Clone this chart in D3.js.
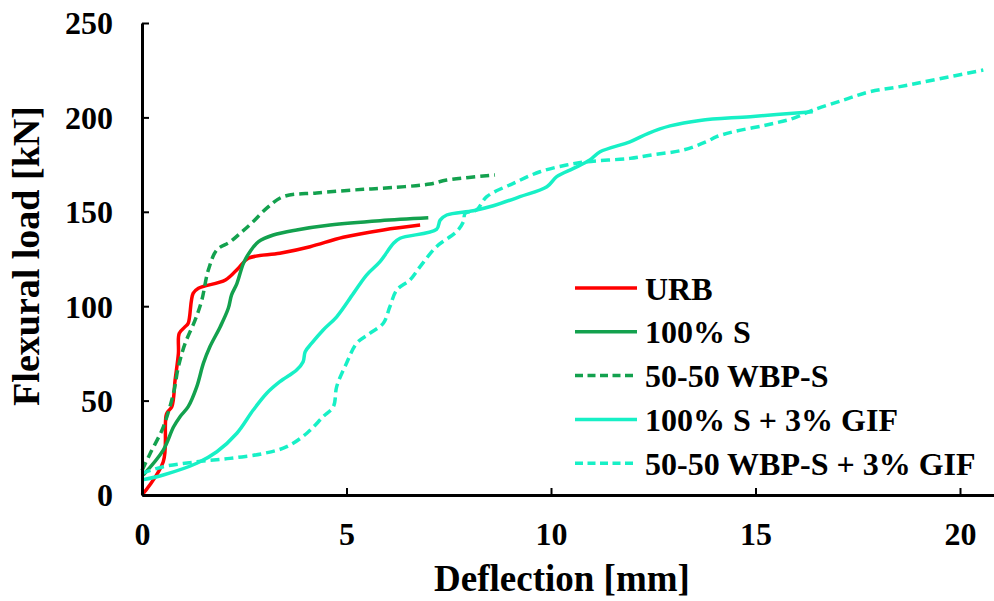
<!DOCTYPE html>
<html>
<head>
<meta charset="utf-8">
<script src="https://cdn.jsdelivr.net/npm/d3@7"></script>
<style>
  body { margin: 0; background: #fff; }
  text { font-family: 'Liberation Serif', 'Times New Roman', serif; font-weight: bold; fill: #000; }
</style>
</head>
<body>
<script>
const seriesNames = ['URB', '100% S', '50-50 WBP-S', '100% S + 3% GIF', '50-50 WBP-S + 3% GIF']

// [deflection mm, load kN]
const urb = [
  [0, 0], [0.52, 17.6], [0.6, 43], [0.73, 46.8], [0.81, 61], [0.89, 75], [0.91, 85.6],
  [1.05, 89], [1.13, 91], [1.25, 106.8], [1.38, 109.5], [2.04, 113.9], [2.35, 120],
  [2.6, 125.4], [3.37, 128], [4.11, 131.5], [4.92, 136.5], [5.9, 140.4], [6.8, 143]
]
const s100 = [
  [0.03, 10.6], [0.52, 23.8], [0.77, 36], [0.93, 41.5], [1.13, 46.8], [1.34, 57.4],
  [1.5, 69.7], [1.66, 78.5], [1.91, 89], [2.11, 98.9], [2.19, 106], [2.32, 112],
  [2.48, 122.7], [2.64, 128.9], [2.85, 134.2], [3.21, 137.7], [3.78, 140.4],
  [4.6, 143], [5.82, 145.3], [7.0, 146.8]
]
const wbp = [
  [0, 13], [0.2, 22], [0.52, 36], [0.77, 54], [0.89, 68], [1.05, 80], [1.3, 92.7],
  [1.46, 103], [1.62, 119], [1.83, 129.8], [2.15, 134], [2.4, 138.6], [2.68, 144],
  [3.05, 151.9], [3.45, 158], [4.27, 160], [5.41, 161.9], [5.82, 162.4], [7.04, 164.7],
  [7.45, 166.8], [8.63, 169.5]
]
const s100Gif = [
  [0, 8], [0.52, 10.6], [1.34, 16.8], [1.83, 22.9], [2.32, 32.7], [2.72, 45], [3.05, 53.9],
  [3.37, 60], [3.78, 66.2], [3.94, 70.6], [3.99, 75.9], [4.15, 80.4], [4.43, 87.4],
  [4.76, 94.4], [5.17, 106.8], [5.49, 116.5], [5.82, 123.6], [6.15, 133.3], [6.31, 136],
  [7.2, 140.7], [7.29, 145.6], [7.45, 148.3], [8.1, 150.6], [8.59, 153.2], [9.24, 158],
  [9.9, 163.3], [10.14, 168.6], [10.55, 173], [10.95, 177.4], [11.2, 181.8], [11.93, 187.1],
  [12.38, 191.6], [12.91, 195.5], [13.64, 198.4], [14.87, 200.4], [16.4, 203]
]
const wbpGif = [
  [0, 11.5], [0.52, 15], [1.34, 17.6], [2.15, 19.4], [2.97, 22], [3.54, 25.6], [4.03, 32.7],
  [4.43, 41.5], [4.68, 46.8], [4.76, 57.4], [5.0, 69.8], [5.25, 80.4], [5.57, 85.6],
  [5.9, 91], [6.06, 99.7], [6.23, 108.6], [6.55, 113.9], [6.8, 121], [7.2, 131.5],
  [7.69, 139.5], [7.86, 144.8], [7.9, 149.2], [8.18, 151], [8.43, 158], [9.08, 165.1],
  [9.73, 171.2], [10.38, 174.8], [10.87, 176.5], [11.93, 178.3], [12.42, 180],
  [13.23, 182.7], [13.8, 187.1], [14.05, 189.8], [14.46, 192.4], [15.27, 196],
  [15.92, 199.5], [16.41, 203.9], [17.15, 209.2], [17.8, 213.6], [18.53, 216.3],
  [19.35, 219.8], [20.57, 225.1]
]

const xTicks = [0, 5, 10, 15, 20]
const yTicks = [0, 50, 100, 150, 200, 250]

const colors = ['#ff0000', '#13a14e', '#13a14e', '#17f0c6', '#17f0c6']
const dashes = [null, null, '9,5', null, '9,5']

const W = 994, H = 601

// x axis runs past the right edge of the picture
const x = d3.scaleLinear().domain([0, 25]).range([142, 142 + 25 * 40.9])
const y = d3.scaleLinear().domain([0, 250]).range([495, 23])

const svg = d3.select('body')
  .append('svg')
  .attr('width', W)
  .attr('height', H)
  .style('display', 'block')

const line = d3.line()
  .x(d => x(d[0]))
  .y(d => y(d[1]))
  .curve(d3.curveCatmullRom.alpha(0.5))

const all = [urb, s100, wbp, s100Gif, wbpGif]

svg.selectAll('path.curve')
  .data(all)
  .enter()
  .append('path')
  .attr('class', 'curve')
  .attr('d', line)
  .attr('fill', 'none')
  .attr('stroke', (d, i) => colors[i])
  .attr('stroke-width', 3.5)
  .attr('stroke-dasharray', (d, i) => dashes[i])

const xAxis = svg.append('g')
  .attr('transform', `translate(0, ${y(0)})`)
  .call(d3.axisBottom(x).tickValues(xTicks).tickSizeInner(-7).tickSizeOuter(0).tickPadding(0))
xAxis.select('.domain').attr('stroke-width', 3)
xAxis.selectAll('.tick line').attr('stroke-width', 2)
xAxis.selectAll('.tick text')
  .attr('y', 50)
  .attr('dy', 0)
  .style('font-size', '32px')
  .style('font-family', null)

const yAxis = svg.append('g')
  .attr('transform', `translate(${x(0)}, 0)`)
  .call(d3.axisLeft(y).tickValues(yTicks).tickSizeInner(-7).tickSizeOuter(0).tickPadding(29))
yAxis.select('.domain').attr('stroke-width', 3)
yAxis.selectAll('.tick line').attr('stroke-width', 2)
yAxis.selectAll('.tick text')
  .attr('dy', '0.34em')
  .style('font-size', '32px')
  .style('font-family', null)

svg.append('text')
  .attr('x', 562)
  .attr('y', 591)
  .attr('text-anchor', 'middle')
  .style('font-size', '37px')
  .text('Deflection [mm]')

svg.append('text')
  .attr('transform', 'translate(39, 256) rotate(-90)')
  .attr('text-anchor', 'middle')
  .style('font-size', '38px')
  .text('Flexural load [kN]')

const legend = svg.selectAll('g.legend')
  .data(seriesNames)
  .enter()
  .append('g')
  .attr('class', 'legend')
  .attr('transform', (d, i) => `translate(575, ${288 + i * 43.8})`)

legend.append('line')
  .attr('x1', 0)
  .attr('x2', 62)
  .attr('stroke', (d, i) => colors[i])
  .attr('stroke-width', 3.5)
  .attr('stroke-dasharray', (d, i) => dashes[i] ? '8,4.5' : null)

legend.append('text')
  .attr('x', 70)
  .attr('dy', '0.36em')
  .style('font-size', '32px')
  .text(d => d)
</script>
</body>
</html>
